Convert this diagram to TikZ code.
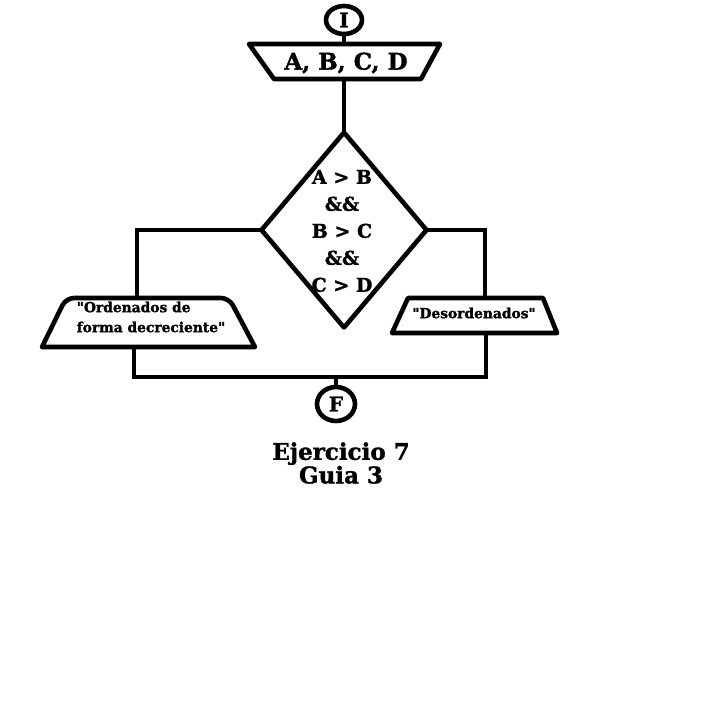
\documentclass[tikz,border=0pt]{standalone}
\usepackage{fontspec}
\setmainfont{DejaVu Serif}[Ligatures=TeXOff,BoldFeatures={FakeBold=1.5}]
\usetikzlibrary{shapes.geometric}
\begin{document}
\begin{tikzpicture}[x=1pt,y=-1pt,line width=4.6pt,
  shp/.style={draw=black,line width=4.6pt,line join=round},
  term/.style={shp,ellipse,inner sep=0pt,font=\bfseries\fontsize{20}{24}\selectfont},
  big/.style={font=\bfseries\fontsize{23}{27}\selectfont},
  mid/.style={font=\bfseries\fontsize{19}{27}\selectfont,align=center},
  small/.style={font=\bfseries\fontsize{13.8}{20}\selectfont},
  title/.style={font=\bfseries\fontsize{23}{22}\selectfont,align=center}]
\useasboundingbox (0,0) rectangle (704,704);
% start
\node[term,minimum width=36pt,minimum height=28pt] (I) at (344,20) {I};
% input trapezoid
\coordinate (t1) at (249,44); \coordinate (t2) at (440,44);
\coordinate (t3) at (421,79); \coordinate (t4) at (274,79);
\draw[shp] (t1) -- (t2) -- (t3) -- (t4) -- cycle;
\node[big] (inp) at (346,63) {A, B, C, D};
\coordinate (intop) at (344,44); \coordinate (inbot) at (344,79);
\draw (I.south) -- (intop);
% decision
\node[shp,diamond,minimum width=165pt,minimum height=195pt,inner sep=0pt,outer sep=0pt] (dia) at (344,230) {};
\node[mid] (cond) at (342,231) {A > B\\\&\&\\B > C\\\&\&\\C > D};
\draw (inbot) -- (dia.north);
% left branch
\coordinate (lc) at (137,230);
\coordinate (ltop) at (137,298);
\draw[line join=miter] (dia.west) -- (lc) -- (ltop);
\draw[shp] (255,347) -- (42,347) [rounded corners=8pt] -- (66,298) -- (229,298) [sharp corners] -- (255,347) -- cycle;
\node[small,align=left] (ord) at (151,317) {"Ordenados de\\forma decreciente"};
% right branch
\coordinate (rc) at (485,230);
\coordinate (rtop) at (485,298);
\draw[line join=miter] (dia.east) -- (rc) -- (rtop);
\draw[shp] (408,298) -- (543,298) -- (557,333) -- (392,333) -- cycle;
\node[small] (des) at (474,313) {"Desordenados"};
% merge
\coordinate (lbot) at (134,347);
\coordinate (lm) at (134,377);
\coordinate (rbot) at (486,333);
\coordinate (rm) at (486,377);
\coordinate (cm) at (336,377);
\draw[line join=miter] (lbot) -- (lm) -- (rm) -- (rbot);
\node[term,minimum width=38pt,minimum height=34pt] (F) at (336,404) {F};
\draw (cm) -- (F.north);
% caption
\node[title] (cap) at (341,463) {Ejercicio 7\\Guia 3};
\end{tikzpicture}
\end{document}
